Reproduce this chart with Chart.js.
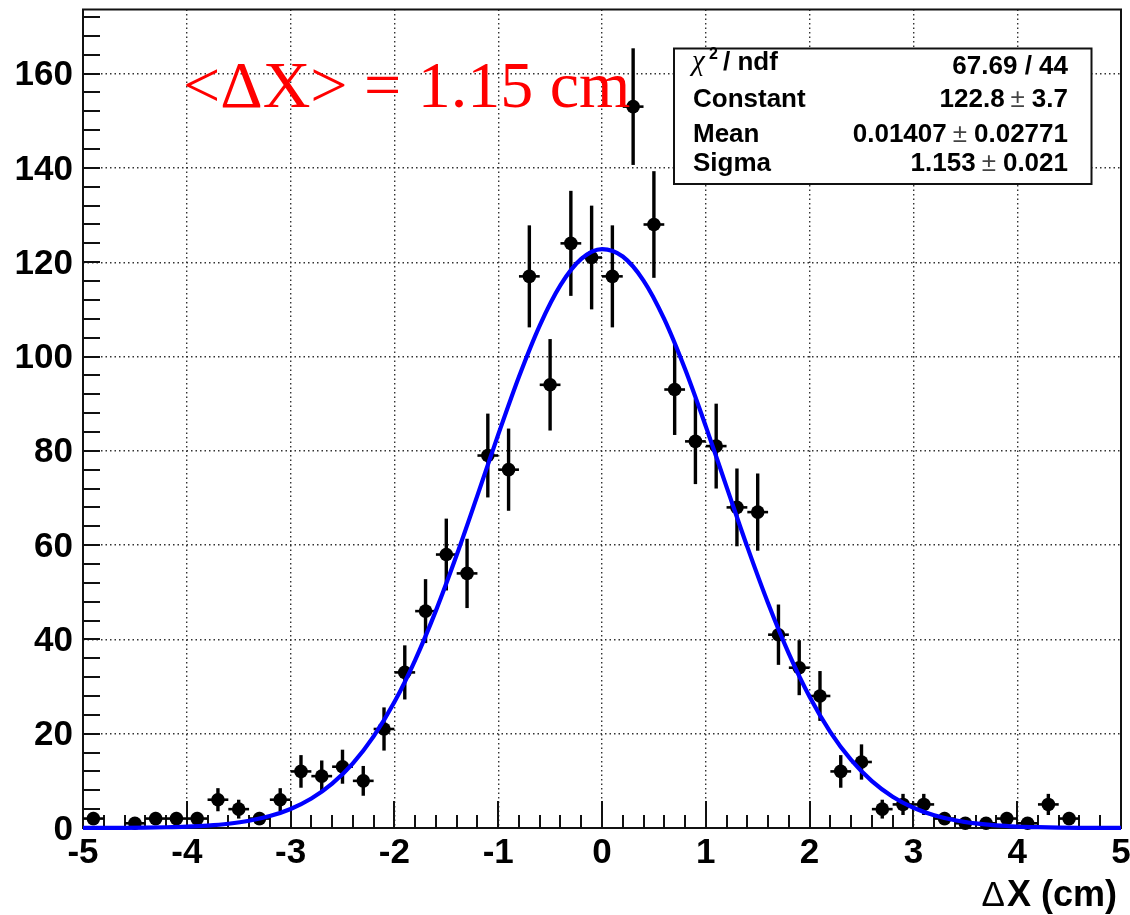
<!DOCTYPE html>
<html><head><meta charset="utf-8">
<script src="https://cdn.jsdelivr.net/npm/chart.js@4.4.0/dist/chart.umd.min.js"></script>
<style>html,body{margin:0;padding:0;background:#fff}canvas{display:block}</style>
</head><body>
<canvas id="c" width="1130" height="915"></canvas>
<script>
// ---- data ----
const binCenters = [-4.9,-4.7,-4.5,-4.3,-4.1,-3.9,-3.7,-3.5,-3.3,-3.1,-2.9,-2.7,-2.5,-2.3,-2.1,-1.9,-1.7,-1.5,-1.3,-1.1,-0.9,-0.7,-0.5,-0.3,-0.1,0.1,0.3,0.5,0.7,0.9,1.1,1.3,1.5,1.7,1.9,2.1,2.3,2.5,2.7,2.9,3.1,3.3,3.5,3.7,3.9,4.1,4.3,4.5,4.7,4.9];
const counts = [2,0,1,2,2,2,6,4,2,6,12,11,13,10,21,33,46,58,54,79,76,117,94,124,121,117,153,128,93,82,81,68,67,41,34,28,12,14,4,5,5,2,1,1,2,1,5,2,0,0];
const errors = [1.41,0,1,1.41,1.41,1.41,2.45,2,1.41,2.45,3.46,3.32,3.61,3.16,4.58,5.74,6.78,7.62,7.35,8.89,8.72,10.82,9.7,11.14,11,10.82,12.37,11.31,9.64,9.06,9,8.25,8.19,6.4,5.83,5.29,3.46,3.74,2,2.24,2.24,1.41,1,1,1.41,1,2.24,1.41,0,0];
const binHalfWidth = 0.1;
const fitX = [-5,-4.8,-4.6,-4.4,-4.2,-4,-3.8,-3.6,-3.4,-3.2,-3,-2.8,-2.6,-2.4,-2.2,-2,-1.8,-1.6,-1.4,-1.2,-1,-0.8,-0.6,-0.4,-0.2,0,0.2,0.4,0.6,0.8,1,1.2,1.4,1.6,1.8,2,2.2,2.4,2.6,2.8,3,3.2,3.4,3.6,3.8,4,4.2,4.4,4.6,4.8,5];
const fitY = [0.0096,0.020,0.041,0.081,0.154,0.287,0.516,0.903,1.532,2.523,4.03,6.25,9.40,13.72,19.43,26.71,35.62,46.10,57.89,70.55,83.42,95.71,106.57,115.14,120.70,122.79,121.21,116.11,107.92,97.33,85.19,72.36,59.62,47.68,37.00,27.85,20.35,14.43,9.93,6.63,4.29,2.70,1.646,0.974,0.560,0.312,0.169,0.089,0.045,0.022,0.011];
const xRange = [-5, 5];
const yRange = [0, 173.6];
const xStep = 1, yStep = 20;
const statsLabels = ['Constant', 'Mean', 'Sigma'];
const statsValues = [['122.8', '3.7'], ['0.01407', '0.02771'], ['1.153', '0.021']];
const chi2Text = '67.69 / 44';
const annotationText = '<ΔX> = 1.15 cm';
const xTitleText = 'X (cm)';

const SANS = '"Liberation Sans", Arial, sans-serif';
const SERIF = '"Liberation Serif", "Times New Roman", serif';

function line(ctx, x1, y1, x2, y2) { ctx.beginPath(); ctx.moveTo(x1, y1); ctx.lineTo(x2, y2); ctx.stroke(); }

const rootPlugin = {
  id: 'rootStyle',
  beforeDatasetsDraw(chart) {
    const { ctx, chartArea: a, scales: { x, y } } = chart;
    ctx.save();
    ctx.strokeStyle = '#111';
    ctx.lineWidth = 2;
    ctx.strokeRect(a.left, a.top, a.right - a.left, a.bottom - a.top);
    // inward ticks on x axis
    for (let i = 0; i <= 50; i++) {
      const v = xRange[0] + i * 0.2;
      const px = Math.round(x.getPixelForValue(v));
      const len = (i % 5 === 0) ? 27 : 13;
      line(ctx, px, a.bottom, px, a.bottom - len);
    }
    // inward ticks on y axis
    for (let i = 0; i * 4 <= yRange[1]; i++) {
      const py = Math.round(y.getPixelForValue(i * 4));
      line(ctx, a.left, py, a.left + 17, py);
    }
    // error bars
    ctx.strokeStyle = '#000';
    binCenters.forEach((c, i) => {
      if (!counts[i]) return;
      const px = x.getPixelForValue(c);
      const py = y.getPixelForValue(counts[i]);
      ctx.lineWidth = 3.4;
      line(ctx, px, y.getPixelForValue(counts[i] - errors[i]), px, y.getPixelForValue(counts[i] + errors[i]));
      ctx.lineWidth = 2.6;
      line(ctx, x.getPixelForValue(c - binHalfWidth), py, x.getPixelForValue(c + binHalfWidth), py);
    });
    ctx.restore();
  },
  afterDraw(chart) {
    const { ctx } = chart;
    ctx.save();
    // stats box
    const bx = 674, by = 48.5, bw = 417.5, bh = 135.5;
    ctx.fillStyle = '#fff';
    ctx.fillRect(bx, by, bw, bh);
    ctx.strokeStyle = '#111';
    ctx.lineWidth = 2;
    ctx.strokeRect(bx, by, bw, bh);
    ctx.fillStyle = '#000';
    ctx.textBaseline = 'alphabetic';
    // chi2 row
    ctx.textAlign = 'left';
    ctx.font = 'italic 29px ' + SERIF;
    ctx.fillText('χ', 692, 70);
    ctx.font = 'bold 16px ' + SANS;
    ctx.fillText('2', 709, 59);
    ctx.font = 'bold 26px ' + SANS;
    ctx.fillText('/ ndf', 723, 70);
    ctx.textAlign = 'right';
    ctx.fillText(chi2Text, 1068, 74);
    const baselines = [107, 141.5, 171];
    statsLabels.forEach((lab, i) => {
      ctx.textAlign = 'left';
      ctx.font = 'bold 26px ' + SANS;
      ctx.fillStyle = '#000';
      ctx.fillText(lab, 693, baselines[i]);
      const [val, err] = statsValues[i];
      ctx.textAlign = 'right';
      let xr = 1068;
      ctx.fillText(err, xr, baselines[i]);
      xr -= ctx.measureText(err).width + 7;
      ctx.font = '26px ' + SANS;
      ctx.fillStyle = '#444';
      ctx.fillText('±', xr, baselines[i]);
      xr -= ctx.measureText('±').width + 6;
      ctx.font = 'bold 26px ' + SANS;
      ctx.fillStyle = '#000';
      ctx.fillText(val, xr, baselines[i]);
    });
    // red annotation
    ctx.textAlign = 'left';
    ctx.fillStyle = '#ff0000';
    ctx.font = '66px ' + SERIF;
    ctx.fillText(annotationText, 183, 107);
    // x axis title
    ctx.fillStyle = '#000';
    ctx.textAlign = 'right';
    ctx.font = 'bold 36px ' + SANS;
    ctx.fillText(xTitleText, 1117, 906);
    const w = ctx.measureText(xTitleText).width;
    ctx.font = '35px ' + SANS;
    ctx.fillText('Δ', 1117 - w - 2, 906);
    ctx.restore();
  }
};

new Chart(document.getElementById('c'), {
  type: 'scatter',
  data: {
    datasets: [
      {
        label: 'fit',
        data: fitX.map((v, i) => ({ x: v, y: fitY[i] })),
        showLine: true,
        borderColor: '#0000ff',
        borderWidth: 4.2,
        pointRadius: 0,
        cubicInterpolationMode: 'monotone',
        clip: 6,
        order: 0
      },
      {
        label: 'hist',
        data: binCenters.map((v, i) => ({ x: v, y: counts[i] })).filter(p => p.y > 0),
        showLine: false,
        pointRadius: 6.8,
        pointBackgroundColor: '#000',
        pointBorderColor: '#000',
        pointBorderWidth: 0,
        clip: 10,
        order: 1
      }
    ]
  },
  options: {
    responsive: false,
    animation: false,
    devicePixelRatio: 1,
    layout: { padding: { top: 9.5, right: 9, left: 0, bottom: 0 } },
    plugins: { legend: { display: false }, tooltip: { enabled: false } },
    scales: {
      x: {
        type: 'linear',
        min: xRange[0], max: xRange[1],
        afterFit(s) { s.height = 87; s.paddingLeft = 0; s.paddingRight = 0; },
        ticks: { stepSize: xStep, includeBounds: false, color: '#000', padding: 4,
                 font: { family: SANS, size: 35, weight: 'bold' }, maxRotation: 0, autoSkip: false },
        grid: { color: '#333', lineWidth: 1.4, drawTicks: false },
        border: { display: false, dash: [1.5, 3] }
      },
      y: {
        type: 'linear',
        min: yRange[0], max: yRange[1],
        afterFit(s) { s.width = 83; s.paddingTop = 0; s.paddingBottom = 0; },
        ticks: { stepSize: yStep, includeBounds: false, color: '#000', padding: 10, labelOffset: 2,
                 font: { family: SANS, size: 35, weight: 'bold' } },
        grid: { color: '#333', lineWidth: 1.4, drawTicks: false },
        border: { display: false, dash: [1.5, 3] }
      }
    }
  },
  plugins: [rootPlugin]
});
</script>
</body></html>
